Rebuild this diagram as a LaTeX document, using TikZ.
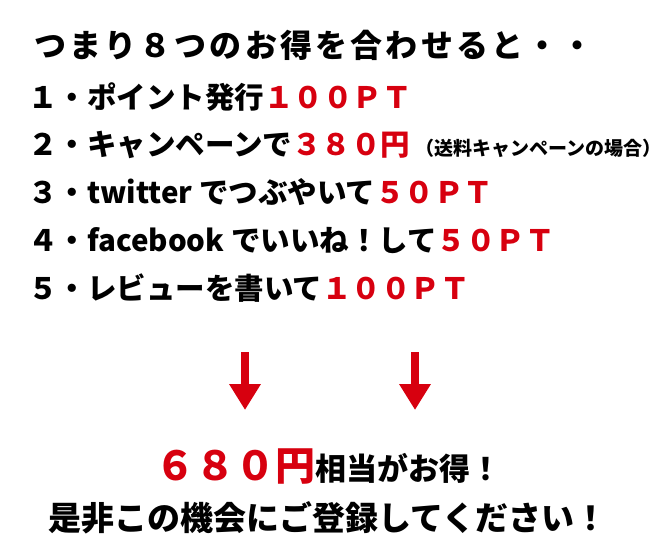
\documentclass[tikz,border=0pt]{standalone}
\usepackage{fontspec}
\usetikzlibrary{arrows.meta}
\newfontfamily\cjk{Noto Sans CJK JP}
\definecolor{rd}{HTML}{D7000F}
\begin{document}
\begin{tikzpicture}[x=1pt,y=-1pt,
  ln/.style={anchor=west,inner sep=0pt,font=\cjk\bfseries\fontsize{29.5}{32}\selectfont},
  arr/.style={draw=rd,line width=8pt,-{Triangle[length=26pt,width=30pt]}}]
\useasboundingbox (0,0) rectangle (660,550);
\node[ln,font=\cjk\bfseries\fontsize{32}{34}\selectfont,anchor=center] (t) at (314,45) {\addfontfeature{LetterSpace=10}つまり８つのお得を合わせると・・};
\node[ln] (l1) at (28,97) {１・ポイント発行\textcolor{rd}{１００ＰＴ}};
\node[ln] (l2) at (28,145) {２・キャンペーンで\textcolor{rd}{３８０円}\,{\fontsize{19}{20}\selectfont （送料キャンペーンの場合）}};
\node[ln] (l3) at (28,192) {３・twitter でつぶやいて\textcolor{rd}{５０ＰＴ}};
\node[ln] (l4) at (28,240) {４・facebook でいいね！して\textcolor{rd}{５０ＰＴ}};
\node[ln] (l5) at (28,288) {５・レビューを書いて\textcolor{rd}{１００ＰＴ}};
\coordinate (a1) at (245,352); \coordinate (b1) at (245,410);
\coordinate (a2) at (415,352); \coordinate (b2) at (415,410);
\draw[arr] (a1) -- (b1);
\draw[arr] (a2) -- (b2);
\node[inner sep=0pt,font=\cjk\bfseries\fontsize{31}{34}\selectfont] (m) at (328,467) {{\fontsize{40}{42}\selectfont\textcolor{rd}{６８０円}}相当がお得！};
\node[inner sep=0pt,font=\cjk\bfseries\fontsize{33}{36}\selectfont] (n) at (328,518) {是非この機会にご登録してください！};
\end{tikzpicture}
\end{document}
